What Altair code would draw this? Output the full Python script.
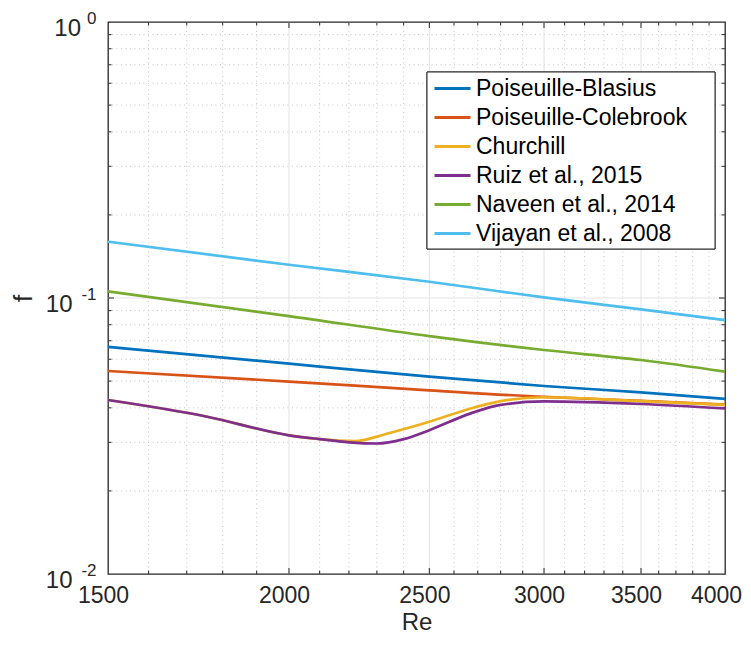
import altair as alt
import pandas as pd

# ---------------- data ----------------
series_names = ["Poiseuille-Blasius", "Poiseuille-Colebrook", "Churchill",
                "Ruiz et al., 2015", "Naveen et al., 2014", "Vijayan et al., 2008"]
series_colors = ["#0072BD", "#D95319", "#EDB120", "#7E2F8E", "#77AC30", "#4DBEEE"]

re_std = [1500, 2000, 2500, 3000, 3500, 4000]
f_blasius = [0.0665, 0.0578, 0.0519, 0.0480, 0.0455, 0.0431]
f_colebrook = [0.0544, 0.0498, 0.0463, 0.0438, 0.0424, 0.0411]
f_naveen = [0.1057, 0.0860, 0.0728, 0.0648, 0.0596, 0.0541]
f_vijayan = [0.160, 0.132, 0.1145, 0.1005, 0.0910, 0.0832]

re_churchill = [1500, 1750, 2000, 2100, 2220, 2340, 2500, 2670, 2800, 3000, 3500, 4000]
f_churchill = [0.0427, 0.0373, 0.0318, 0.0308, 0.0303, 0.0323, 0.0356, 0.0398, 0.0423, 0.0437, 0.0423, 0.0410]

re_ruiz = [1500, 1750, 2000, 2100, 2200, 2300, 2400, 2500, 2670, 2800, 3000, 3500, 4000]
f_ruiz = [0.0427, 0.0373, 0.0318, 0.0308, 0.0300, 0.0297, 0.0308, 0.0332, 0.0382, 0.0410, 0.0422, 0.0413, 0.0398]

x_tick_values = [1500, 2000, 2500, 3000, 3500, 4000]
x_major_inner = [2000, 2500, 3000, 3500]
x_minor = [1600, 1700, 1800, 1900, 2100, 2200, 2300, 2400, 2600, 2700, 2800, 2900,
           3100, 3200, 3300, 3400, 3600, 3700, 3800, 3900]
y_major_inner = [0.1]
y_minor = [0.02, 0.03, 0.04, 0.05, 0.06, 0.07, 0.08, 0.09,
           0.2, 0.3, 0.4, 0.5, 0.6, 0.7, 0.8, 0.9]
y_label_values = [1, 0.1, 0.01]
y_label_exps = ["0", "-1", "-2"]

# ---------------- layout constants ----------------
W, H = 617, 552
FONT = "Liberation Sans"
AX = "#262626"

curves = [
    (series_names[0], re_std, f_blasius),
    (series_names[1], re_std, f_colebrook),
    (series_names[2], re_churchill, f_churchill),
    (series_names[3], re_ruiz, f_ruiz),
    (series_names[4], re_std, f_naveen),
    (series_names[5], re_std, f_vijayan),
]

xscale = alt.Scale(type="log", domain=[1500, 4000], nice=False)
yscale = alt.Scale(type="log", domain=[0.01, 1], nice=False)
cscale = alt.Scale(domain=series_names, range=series_colors)

layers = []

# base layer carrying the axes
axis_df = pd.DataFrame({"Re": [1500, 4000], "f": [0.01, 1]})
base = alt.Chart(axis_df).mark_point(opacity=0).encode(
    x=alt.X("Re:Q", scale=xscale,
            axis=alt.Axis(values=x_tick_values, format="d", title="Re",
                          labelFontSize=23, labelPadding=10, labelFlush=False,
                          labelOverlap=False,
                          labelOffset=alt.ExprRef(expr="datum.value >= 4000 ? -9 : -5"),
                          titleFontSize=24, titleY=55.5, titleBaseline="alphabetic",
                          titleX=W / 2)),
    y=alt.Y("f:Q", scale=yscale,
            axis=alt.Axis(values=y_label_values, labels=False, title="f",
                          titleFontSize=26, titleAngle=270, titleX=-85, titleY=H / 2,
                          titleAlign="center", titleBaseline="middle")),
)
layers.append(base)

# grid lines
def vgrid(vals, dash, color):
    df = pd.DataFrame({"Re": vals})
    kw = dict(color=color, strokeWidth=1)
    if dash:
        kw["strokeDash"] = dash
    return alt.Chart(df).mark_rule(**kw).encode(x=alt.X("Re:Q", scale=xscale))

def hgrid(vals, dash, color):
    df = pd.DataFrame({"f": vals})
    kw = dict(color=color, strokeWidth=1)
    if dash:
        kw["strokeDash"] = dash
    return alt.Chart(df).mark_rule(**kw).encode(y=alt.Y("f:Q", scale=yscale))

layers.append(vgrid(x_minor, [1, 3.5], "#c6c6c6"))
layers.append(hgrid(y_minor, [1, 3.5], "#c6c6c6"))
layers.append(vgrid(x_major_inner, None, "#e3e3e3"))
layers.append(hgrid(y_major_inner, None, "#e3e3e3"))

# inward tick marks on all four sides
def xticks(vals, length):
    df = pd.DataFrame({"Re": vals})
    bottom = alt.Chart(df).mark_rule(color=AX, strokeWidth=1).encode(
        x=alt.X("Re:Q", scale=xscale), y=alt.value(H), y2=alt.value(H - length))
    top = alt.Chart(df).mark_rule(color=AX, strokeWidth=1).encode(
        x=alt.X("Re:Q", scale=xscale), y=alt.value(0), y2=alt.value(length))
    return [bottom, top]

def yticks(vals, length):
    df = pd.DataFrame({"f": vals})
    left = alt.Chart(df).mark_rule(color=AX, strokeWidth=1).encode(
        y=alt.Y("f:Q", scale=yscale), x=alt.value(0), x2=alt.value(length))
    right = alt.Chart(df).mark_rule(color=AX, strokeWidth=1).encode(
        y=alt.Y("f:Q", scale=yscale), x=alt.value(W), x2=alt.value(W - length))
    return [left, right]

layers += xticks(x_major_inner, 6)
layers += xticks(x_minor, 3.5)
layers += yticks(y_major_inner, 6)
layers += yticks(y_minor, 3.5)

# legend frame
layers.append(alt.Chart(axis_df).mark_rect(fill="white", stroke=AX, strokeWidth=1).encode(
    x=alt.value(319), x2=alt.value(607), y=alt.value(50), y2=alt.value(227)))

# curves
for i, (name, xs, ys) in enumerate(curves):
    df = pd.DataFrame({"Re": xs, "f": ys, "series": name})
    enc = dict(
        x=alt.X("Re:Q", scale=xscale),
        y=alt.Y("f:Q", scale=yscale),
    )
    if i == 0:
        leg = alt.Legend(orient="none", legendX=329, legendY=51, title=None,
                         symbolType="M-1.8,0H1.8", symbolSize=400, symbolStrokeWidth=3,
                         labelFontSize=23, labelFont=FONT, labelColor="black",
                         labelLimit=400, labelOffset=12, rowPadding=5, padding=4)
        enc["color"] = alt.Color("series:N", scale=cscale, legend=leg)
    else:
        enc["color"] = alt.Color("series:N", scale=cscale)
    layers.append(alt.Chart(df).mark_line(strokeWidth=2.7, interpolate="monotone").encode(**enc))

# y tick labels: "10" with raised exponent
lab_df = pd.DataFrame({"f": y_label_values, "exp": y_label_exps, "base": ["10"] * 3})
base_x = {"0": -27, "-1": -35.5, "-2": -35.5}
for e in y_label_exps:
    sub = lab_df[lab_df["exp"] == e]
    layers.append(alt.Chart(sub).mark_text(
        font=FONT, fontSize=24, color=AX, align="right", baseline="alphabetic", dy=14
    ).encode(y=alt.Y("f:Q", scale=yscale), x=alt.value(base_x[e]), text="base:N"))
    layers.append(alt.Chart(sub).mark_text(
        font=FONT, fontSize=17, color=AX, align="right", baseline="alphabetic", dy=2
    ).encode(y=alt.Y("f:Q", scale=yscale), x=alt.value(-11.5), text="exp:N"))

chart = alt.layer(*layers).properties(
    width=W, height=H,
    padding={"left": 100, "top": 14, "right": 18, "bottom": 61},
    autosize=alt.AutoSizeParams(type="none"),
).configure_view(
    stroke=AX, strokeWidth=1.3
).configure_axis(
    grid=False, ticks=False, domain=False,
    labelFont=FONT, labelColor=AX, titleFont=FONT, titleColor=AX,
    titleFontWeight="normal",
)

chart.save("out.html", embed_options={"renderer": "svg", "actions": False})
